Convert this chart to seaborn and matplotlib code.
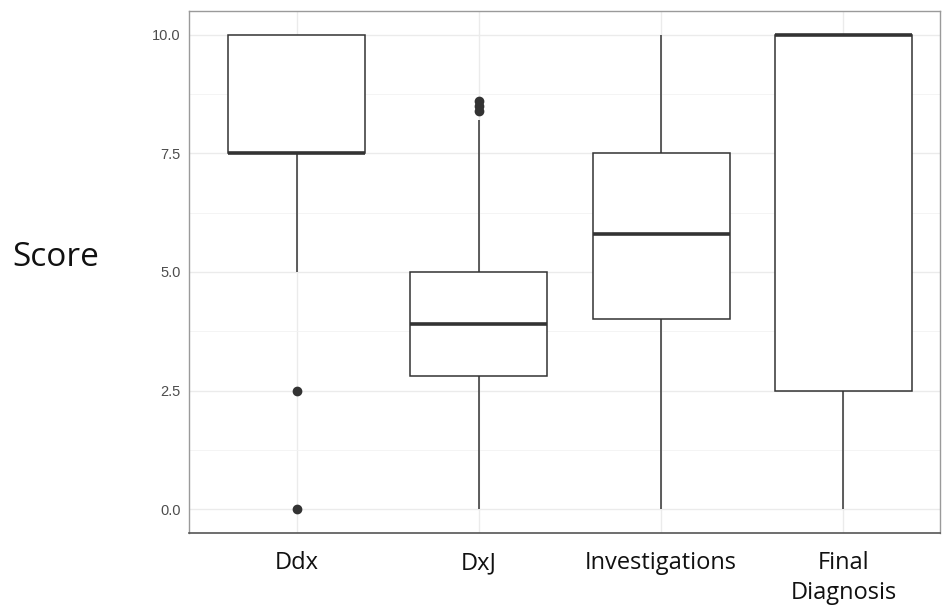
import matplotlib
matplotlib.use("Agg")
import matplotlib.pyplot as plt
import numpy as np
import pandas as pd
import seaborn as sns

# scores per task (quartiles, whiskers, outliers)
tasks = ["Ddx", "DxJ", "Investigations", "Final\nDiagnosis"]
ddx = [0, 2.5, 5, 7.5, 7.5, 7.5, 7.5, 7.5, 7.5, 10, 10, 10, 10]
dxj = [0, 1.0, 2.0, 2.5, 2.8, 3.2, 3.5, 3.7, 3.9, 4.2, 4.5, 4.8, 5.0,
       8.2, 8.4, 8.5, 8.6]
investigations = [0, 4.0, 5.8, 7.5, 10]
final_dx = [0, 2.5, 10, 10, 10]
yticks = [0.0, 2.5, 5.0, 7.5, 10.0]

df = pd.concat([
    pd.DataFrame({"task": name, "score": vals})
    for name, vals in zip(tasks, [ddx, dxj, investigations, final_dx])
])

sns.set_style("white")
plt.rcParams["font.family"] = ["Liberation Sans", "DejaVu Sans"]

fig = plt.figure(figsize=(9.42, 6.07), dpi=100)
ax = fig.add_axes([0.2006, 0.1219, 0.7974, 0.8601])

dark = "#333333"
sns.boxplot(
    data=df, x="task", y="score", order=tasks, ax=ax,
    color="white", linecolor=dark, linewidth=1.1, width=0.75,
    showcaps=False, whis=1.5, fliersize=6,
    medianprops=dict(linewidth=2.6, color=dark),
    flierprops=dict(marker="o", markerfacecolor=dark, markeredgecolor=dark),
)

ax.set_ylim(-0.5, 10.5)
ax.set_xlim(-0.59, 3.53)
ax.set_yticks(yticks)
ax.set_yticklabels([f"{v:.1f}" for v in yticks])
ax.set_yticks(np.arange(1.25, 10, 2.5), minor=True)

ax.set_axisbelow(True)
ax.grid(True, which="major", color="#EBEBEB", linewidth=1.0)
ax.grid(True, which="minor", axis="y", color="#F2F2F2", linewidth=0.6)

for side in ["left", "top", "right"]:
    ax.spines[side].set_color("#9A9A9A")
    ax.spines[side].set_linewidth(1.0)
ax.spines["bottom"].set_color("#555555")
ax.spines["bottom"].set_linewidth(1.2)

ax.tick_params(axis="y", which="major", length=3, color="#555555",
               labelsize=10.5, labelcolor="#4D4D4D", pad=3)
ax.tick_params(axis="y", which="minor", length=0)
ax.tick_params(axis="x", length=4, color="#555555", pad=9)
for lbl in ax.get_xticklabels():
    lbl.set_fontfamily(["Open Sans", "DejaVu Sans"])
    lbl.set_fontsize(17)
    lbl.set_color("#111111")
    lbl.set_linespacing(1.35)

ax.set_xlabel("")
ax.set_ylabel("Score", rotation=0, fontsize=24, color="#111111",
              fontfamily=["Open Sans", "DejaVu Sans"], ha="center", va="center")
ax.yaxis.set_label_coords(-0.178, 0.527)

fig.savefig("out.png", dpi=100)
